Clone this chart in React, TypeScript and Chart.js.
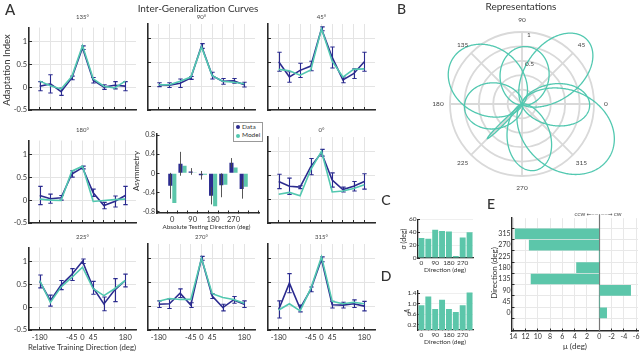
import React, { useEffect, useRef } from 'react';
import { Chart, registerables } from 'chart.js';
Chart.register(...registerables);

const FONT = 'Lato, "Open Sans", "DejaVu Sans", sans-serif';
Chart.defaults.font.family = FONT;
const NAVY = '#2b2b8f';
const TEAL = '#52c8b0';
const BAR_TEAL = '#5cc6aa';
const GRID = '#e4e4e4';
const AXIS = '#2a2a2a';
const TEXT = '#333333';

// ---------- Panel A: inter-generalization curves ----------
const relDirections = [-180, -135, -90, -45, 0, 45, 90, 135, 180];
const relTickLabels = [-180, -45, 0, 45, 180];
const adaptTicks = [-0.5, 0, 0.5, 1];

const data135 = [0.02, 0.07, -0.1, 0.2, 0.86, 0.15, 0.0, 0.04, 0.02];
const err135 = [0.1, 0.2, 0.08, 0.04, 0.04, 0.06, 0.05, 0.08, 0.1];
const model135 = [0.13, 0.03, -0.04, 0.23, 0.9, 0.18, 0.02, -0.02, 0.13];

const data90 = [0.03, 0.02, 0.06, 0.17, 0.84, 0.22, 0.1, 0.11, 0.03];
const err90 = [0.04, 0.05, 0.09, 0.03, 0.05, 0.07, 0.06, 0.05, 0.05];
const model90 = [0.03, 0.03, 0.1, 0.19, 0.82, 0.22, 0.1, 0.08, 0.05];

const data45 = [0.51, 0.19, 0.33, 0.42, 1.2, 0.6, 0.13, 0.26, 0.51];
const err45 = [0.2, 0.11, 0.15, 0.1, 0.04, 0.22, 0.06, 0.1, 0.2];
const model45 = [0.35, 0.32, 0.23, 0.34, 1.2, 0.52, 0.19, 0.35, 0.36];

const data180 = [0.1, 0.03, 0.05, 0.57, 0.71, 0.16, -0.12, -0.03, 0.1];
const err180 = [0.2, 0.1, 0.05, 0.07, 0.03, 0.08, 0.07, 0.12, 0.2];
const model180 = [0.02, 0.0, -0.01, 0.63, 0.74, -0.03, -0.01, 0.01, 0.02];

const data0 = [0.37, 0.27, 0.25, 0.68, 0.97, 0.4, 0.2, 0.27, 0.37];
const err0 = [0.15, 0.17, 0.03, 0.17, 0.07, 0.15, 0.05, 0.1, 0.16];
const model0 = [0.1, 0.14, 0.07, 0.62, 1.0, 0.15, 0.17, 0.22, 0.3];

const data225 = [0.56, 0.14, 0.48, 0.71, 1.0, 0.42, 0.07, 0.37, 0.58];
const err225 = [0.14, 0.12, 0.1, 0.13, 0.05, 0.14, 0.15, 0.25, 0.14];
const model225 = [0.58, 0.1, 0.44, 0.65, 0.87, 0.4, 0.25, 0.4, 0.58];

const data270 = [0.04, 0.05, 0.27, 0.02, 1.0, 0.21, -0.03, 0.13, 0.04];
const err270 = [0.07, 0.1, 0.09, 0.05, 0.04, 0.05, 0.07, 0.07, 0.07];
const model270 = [0.1, 0.16, 0.14, 0.14, 1.0, 0.26, 0.18, 0.14, 0.06];

const data315 = [-0.07, 0.48, -0.05, 0.35, 0.98, 0.03, 0.02, 0.05, 0.0];
const err315 = [0.18, 0.2, 0.07, 0.05, 0.05, 0.07, 0.06, 0.08, 0.1];
const model315 = [-0.08, 0.05, -0.1, 0.37, 1.03, 0.1, 0.05, 0.08, 0.05];

// ---------- Asymmetry bar panel ----------
const absDirections = [0, 45, 90, 135, 180, 225, 270, 315];
const absTickLabels = [0, 90, 180, 270];
const asymTicks = [-0.8, -0.4, 0, 0.4, 0.8];
const asymData = [-0.26, 0.2, 0.04, -0.04, -0.47, -0.25, 0.22, -0.33];
const asymErr = [0.27, 0.25, 0.07, 0.09, 0.18, 0.25, 0.1, 0.2];
const asymModel = [-0.62, 0.16, 0.02, -0.03, -0.69, -0.24, 0.12, -0.28];

// ---------- Panels C, D, E: representation parameters ----------
const sigmaDeg = [31, 30, 44, 42, 41, 3, 32, 40];
const sigmaTicks = [0, 20, 40, 60];
const amplitude = [0.94, 1.27, 0.8, 1.15, 0.8, 0.68, 0.94, 1.42];
const ampTicks = [0.2, 0.6, 1.0, 1.4];
const muDeg = [-1.2, 0, -5.1, 11.1, 3.7, 0, 11.4, 13.7];
const muTicks = [-6, -4, -2, 0, 2, 4, 6, 8, 10, 12, 14];

// ---------- Panel B: polar representation ----------
const polarAngleLabels = [0, 45, 90, 135, 180, 225, 270, 315];
const polarRingTicks = [0.2, 0.4, 0.6, 0.8, 1.0];
const POLAR_STEP = 0.5;
const polarSamples = Array.from({ length: 720 }, (_, i) => (((90 - i * POLAR_STEP) % 360) + 360) % 360);

type Rect = { l: number; t: number; r: number; b: number };
type M = { ml: number; mt: number; mr: number; mb: number };

const errorBars = {
  id: 'errorBars',
  afterDatasetDraw(chart: any, args: any) {
    const ds = chart.data.datasets[args.index];
    if (!ds.errors) return;
    const meta = args.meta;
    const ys = chart.scales[meta.yAxisID];
    const ctx = chart.ctx;
    ctx.save();
    ctx.strokeStyle = ds.errColor;
    ctx.lineWidth = ds.errWidth;
    meta.data.forEach((el: any, i: number) => {
      const raw = ds.data[i];
      const v = typeof raw === 'number' ? raw : raw.y;
      const e = ds.errors[i];
      const x = Math.round(el.x) + 0.5;
      const y1 = ys.getPixelForValue(v + e);
      const y2 = ys.getPixelForValue(v - e);
      ctx.beginPath();
      ctx.moveTo(x, y1);
      ctx.lineTo(x, y2);
      if (ds.cap) {
        ctx.moveTo(x - ds.cap, y1);
        ctx.lineTo(x + ds.cap, y1);
        ctx.moveTo(x - ds.cap, y2);
        ctx.lineTo(x + ds.cap, y2);
      }
      ctx.stroke();
    });
    ctx.restore();
  },
};

function baseOpts(m: M) {
  return {
    responsive: false,
    animation: false,
    devicePixelRatio: 1,
    events: [],
    layout: { padding: { left: 0, top: m.mt, right: m.mr, bottom: 0 } },
    plugins: { legend: { display: false }, tooltip: { enabled: false }, title: { display: false } },
  };
}

function ChartCanvas({ rect, m, build }: { rect: Rect; m: M; build: (m: M) => any }) {
  const ref = useRef<HTMLCanvasElement>(null);
  const w = rect.r - rect.l + m.ml + m.mr;
  const h = rect.b - rect.t + m.mt + m.mb;
  useEffect(() => {
    const chart = new Chart(ref.current as HTMLCanvasElement, build(m));
    return () => chart.destroy();
  }, []);
  return (
    <canvas
      ref={ref}
      width={w}
      height={h}
      style={{ position: 'absolute', left: rect.l - m.ml, top: rect.t - m.mt, width: w, height: h }}
    />
  );
}

function linePanel(data: number[], err: number[], model: number[], showY: boolean, showX: boolean) {
  return (m: M) => ({
    type: 'line',
    data: {
      datasets: [
        {
          data: relDirections.map((x, i) => ({ x, y: model[i] })),
          borderColor: TEAL,
          borderWidth: 1.6,
          pointRadius: 0,
          tension: 0,
        },
        {
          data: relDirections.map((x, i) => ({ x, y: data[i] })),
          borderColor: NAVY,
          borderWidth: 1.6,
          pointRadius: 0,
          tension: 0,
          errors: err,
          errColor: NAVY,
          errWidth: 1.1,
          cap: 2.2,
        },
      ],
    },
    plugins: [errorBars],
    options: {
      ...baseOpts(m),
      scales: {
        x: {
          type: 'linear',
          min: -225,
          max: 225,
          afterBuildTicks: (s: any) => { s.ticks = relDirections.map((v) => ({ value: v })); },
          afterFit: (s: any) => { s.height = m.mb; },
          grid: { color: GRID, lineWidth: 1, tickLength: -3, tickColor: AXIS, tickWidth: 1 },
          border: { color: AXIS, width: 1.6 },
          ticks: {
            display: showX,
            autoSkip: false,
            maxRotation: 0,
            minRotation: 0,
            padding: 6,
            color: TEXT,
            font: { size: 7.5, family: FONT },
            callback: (v: number) => (relTickLabels.includes(v) ? String(v) : ''),
          },
        },
        y: {
          type: 'linear',
          min: -0.5,
          max: 1.3,
          afterBuildTicks: (s: any) => { s.ticks = adaptTicks.map((v) => ({ value: v })); },
          afterFit: (s: any) => { s.width = m.ml; },
          grid: { color: GRID, lineWidth: 1, tickLength: -3, tickColor: AXIS, tickWidth: 1 },
          border: { color: AXIS, width: 1.6 },
          ticks: {
            display: showY,
            padding: 5,
            color: TEXT,
            font: { size: 7.5, family: FONT },
            callback: (v: number) => String(v),
          },
        },
      },
    },
  });
}

function asymPanel(m: M) {
  return {
    type: 'bar',
    data: {
      datasets: [
        {
          data: absDirections.map((x, i) => ({ x, y: asymData[i] })),
          backgroundColor: NAVY,
          errors: asymErr,
          errColor: '#444',
          errWidth: 0.9,
          cap: 0,
        },
        {
          data: absDirections.map((x, i) => ({ x, y: asymModel[i] })),
          backgroundColor: BAR_TEAL,
        },
      ],
    },
    plugins: [errorBars],
    options: {
      ...baseOpts(m),
      datasets: { bar: { categoryPercentage: 0.8, barPercentage: 1 } },
      scales: {
        x: {
          type: 'linear',
          min: -45,
          max: 360,
          afterBuildTicks: (s: any) => { s.ticks = [-45, ...absDirections, 360].map((v) => ({ value: v })); },
          afterFit: (s: any) => { s.height = m.mb; },
          grid: { drawOnChartArea: false, tickLength: -2.5, tickColor: AXIS },
          border: { color: AXIS, width: 1.5 },
          ticks: {
            autoSkip: false, maxRotation: 0, minRotation: 0, padding: 4.5, color: TEXT,
            font: { size: 7.5, family: FONT },
            callback: (v: number) => (absTickLabels.includes(v) ? String(v) : ''),
          },
        },
        y: {
          type: 'linear',
          min: -0.83,
          max: 0.83,
          afterBuildTicks: (s: any) => { s.ticks = asymTicks.map((v) => ({ value: v })); },
          afterFit: (s: any) => { s.width = m.ml; },
          grid: { drawOnChartArea: false, tickLength: -2.5, tickColor: AXIS },
          border: { color: AXIS, width: 1.5 },
          ticks: {
            padding: 4.5, color: TEXT, font: { size: 7, family: FONT },
            callback: (v: number) => (v === 0 ? '0' : v.toFixed(1)),
          },
        },
      },
    },
  };
}

function paramBarPanel(values: number[], ymax: number, ticks: number[], fmt: (v: number) => string) {
  return (m: M) => ({
    type: 'bar',
    data: {
      labels: absDirections.map(String),
      datasets: [{ data: values, backgroundColor: BAR_TEAL, barPercentage: 0.86, categoryPercentage: 1 }],
    },
    options: {
      ...baseOpts(m),
      scales: {
        x: {
          afterFit: (s: any) => { s.height = m.mb; },
          grid: { drawOnChartArea: false, tickLength: -2, tickColor: AXIS, offset: false },
          border: { color: AXIS, width: 1.3 },
          ticks: {
            autoSkip: false, maxRotation: 0, minRotation: 0, padding: 3.5, color: TEXT,
            font: { size: 6.5, family: FONT },
            callback: (_v: number, i: number) => (absTickLabels.includes(absDirections[i]) ? String(absDirections[i]) : ''),
          },
        },
        y: {
          min: 0,
          max: ymax,
          afterBuildTicks: (s: any) => { s.ticks = ticks.map((v) => ({ value: v })); },
          afterFit: (s: any) => { s.width = m.ml; },
          grid: { color: '#efefef', tickLength: -2, tickColor: AXIS },
          border: { color: AXIS, width: 1.3 },
          ticks: { padding: 3.5, color: TEXT, font: { size: 6.5, family: FONT }, callback: fmt },
        },
      },
    },
  });
}

const zeroLine = {
  id: 'zeroLine',
  beforeDatasetsDraw(chart: any) {
    const xs = chart.scales.x;
    const a = chart.chartArea;
    const ctx = chart.ctx;
    const x = Math.round(xs.getPixelForValue(0)) + 0.5;
    ctx.save();
    ctx.strokeStyle = '#777';
    ctx.lineWidth = 1.2;
    ctx.beginPath();
    ctx.moveTo(x, a.top - 4);
    ctx.lineTo(x, a.bottom);
    ctx.stroke();
    ctx.restore();
  },
};

function muPanel(m: M) {
  return {
    type: 'bar',
    data: {
      datasets: [
        {
          data: absDirections.map((d, i) => ({ x: muDeg[i], y: d })),
          backgroundColor: BAR_TEAL,
          barThickness: 10,
        },
      ],
    },
    plugins: [zeroLine],
    options: {
      ...baseOpts(m),
      indexAxis: 'y',
      scales: {
        x: {
          type: 'linear',
          reverse: true,
          min: -6.3,
          max: 14.2,
          afterBuildTicks: (s: any) => { s.ticks = muTicks.map((v) => ({ value: v })); },
          afterFit: (s: any) => { s.height = m.mb; },
          grid: { color: '#e8e8e8', tickLength: -2.5, tickColor: AXIS },
          border: { color: AXIS, width: 1.4 },
          ticks: { autoSkip: false, maxRotation: 0, minRotation: 0, padding: 4, color: TEXT, font: { size: 7, family: FONT }, callback: (v: number) => String(v) },
        },
        y: {
          type: 'linear',
          min: -44,
          max: 349,
          afterBuildTicks: (s: any) => { s.ticks = absDirections.map((v) => ({ value: v })); },
          afterFit: (s: any) => { s.width = m.ml; },
          grid: { color: '#e8e8e8', tickLength: -2.5, tickColor: AXIS },
          border: { color: AXIS, width: 1.4 },
          ticks: { padding: 4, color: TEXT, font: { size: 7, family: FONT }, callback: (v: number) => String(v) },
        },
      },
    },
  };
}

const polarLabelsPlugin = {
  id: 'polarLabels',
  afterDraw(chart: any) {
    const s = chart.scales.r;
    const ctx = chart.ctx;
    ctx.save();
    ctx.fillStyle = '#444';
    ctx.font = `6.5px ${FONT}`;
    ctx.textAlign = 'center';
    ctx.textBaseline = 'middle';
    const R = s.drawingArea + 12;
    polarAngleLabels.forEach((a) => {
      const rad = (a * Math.PI) / 180;
      ctx.fillText(String(a), s.xCenter + R * Math.cos(rad), s.yCenter - R * Math.sin(rad));
    });
    ctx.textAlign = 'left';
    ctx.fillText('1', s.xCenter + 5, s.yCenter - s.getDistanceFromCenterForValue(1) + 3);
    ctx.fillText('0.5', s.xCenter + 3, s.yCenter - s.getDistanceFromCenterForValue(0.6) + 3);
    ctx.restore();
  },
};

function polarPanel(m: M) {
  const datasets = absDirections.map((d, k) => {
    const center = d + muDeg[k];
    const sig = sigmaDeg[k];
    return {
      data: polarSamples.map((th) => {
        let dl = th - center;
        dl = ((dl + 540) % 360) - 180;
        return amplitude[k] * Math.exp(-(dl * dl) / (2 * sig * sig));
      }),
      borderColor: TEAL,
      borderWidth: 1.3,
      pointRadius: 0,
      fill: false,
      clip: false,
    };
  });
  return {
    type: 'radar',
    data: { labels: polarSamples.map(String), datasets },
    plugins: [polarLabelsPlugin],
    options: {
      ...baseOpts(m),
      layout: { padding: { left: m.ml, top: m.mt, right: m.mr, bottom: m.mb } },
      scales: {
        r: {
          min: 0,
          max: 1,
          afterBuildTicks: (s: any) => { s.ticks = [0, ...polarRingTicks].map((v) => ({ value: v })); },
          ticks: { display: false },
          pointLabels: { display: false },
          grid: { circular: true, color: '#d9d9d9', lineWidth: 1.8 },
          angleLines: {
            color: '#d9d9d9',
            lineWidth: (c: any) => (c.index % Math.round(45 / POLAR_STEP) === 0 ? 1.8 : 0),
          },
        },
      },
    },
  };
}

function T(props: { x: number; y: number; s: number; children: any; rot?: number; w?: number; it?: boolean; color?: string }) {
  const { x, y, s, children, rot, w = 400, it, color = TEXT } = props;
  return (
    <div
      style={{
        position: 'absolute', left: x, top: y,
        transform: `translate(-50%,-50%)${rot ? ` rotate(${rot}deg)` : ''}`,
        fontSize: s, fontWeight: w, fontStyle: it ? 'italic' : 'normal', color,
        whiteSpace: 'nowrap', lineHeight: 1, fontFamily: FONT,
      }}
    >
      {children}
    </div>
  );
}

const cols = [{ l: 29, r: 136 }, { l: 148, r: 255 }, { l: 268, r: 375 }];
const rows = [{ t: 24, b: 110 }, { t: 137, b: 223 }, { t: 244, b: 330 }];
const lineM: M = { ml: 28, mt: 6, mr: 4, mb: 14 };

export default function App() {
  const panels = [
    { c: 0, r: 0, title: '135°', d: data135, e: err135, mo: model135 },
    { c: 1, r: 0, title: '90°', d: data90, e: err90, mo: model90 },
    { c: 2, r: 0, title: '45°', d: data45, e: err45, mo: model45 },
    { c: 0, r: 1, title: '180°', d: data180, e: err180, mo: model180 },
    { c: 2, r: 1, title: '0°', d: data0, e: err0, mo: model0 },
    { c: 0, r: 2, title: '225°', d: data225, e: err225, mo: model225 },
    { c: 1, r: 2, title: '270°', d: data270, e: err270, mo: model270 },
    { c: 2, r: 2, title: '315°', d: data315, e: err315, mo: model315 },
  ];
  return (
    <div style={{ position: 'fixed', left: 0, top: 0, width: 640, height: 352, background: '#fff', overflow: 'hidden', fontFamily: FONT }}>
      {panels.map((p, i) => (
        <ChartCanvas
          key={i}
          rect={{ l: cols[p.c].l, r: cols[p.c].r, t: rows[p.r].t, b: rows[p.r].b }}
          m={lineM}
          build={linePanel(p.d, p.e, p.mo, p.c === 0, p.r === 2)}
        />
      ))}
      {panels.map((p, i) => (
        <T key={'t' + i} x={(cols[p.c].l + cols[p.c].r) / 2} y={rows[p.r].t - 7} s={6} color="#444">{p.title}</T>
      ))}
      <ChartCanvas rect={{ l: 157, r: 259, t: 131, b: 213 }} m={{ ml: 24, mt: 6, mr: 4, mb: 12 }} build={asymPanel} />
      <ChartCanvas rect={{ l: 418, r: 473, t: 218, b: 258 }} m={{ ml: 20, mt: 6, mr: 4, mb: 12 }} build={paramBarPanel(sigmaDeg, 60, sigmaTicks, (v) => String(v))} />
      <ChartCanvas rect={{ l: 418, r: 473, t: 289, b: 330 }} m={{ ml: 20, mt: 6, mr: 4, mb: 12 }} build={paramBarPanel(amplitude, 1.5, ampTicks, (v) => v.toFixed(1))} />
      <ChartCanvas rect={{ l: 512, r: 638, t: 218, b: 331 }} m={{ ml: 22, mt: 8, mr: 2, mb: 12 }} build={muPanel} />
      <ChartCanvas rect={{ l: 450, r: 594, t: 32, b: 176 }} m={{ ml: 50, mt: 32, mr: 46, mb: 34 }} build={polarPanel} />

      {/* Legend for asymmetry panel */}
      <div style={{ position: 'absolute', left: 233, top: 122, width: 30, height: 20, border: '1px solid #999', background: '#fff', boxSizing: 'border-box' }} />
      <div style={{ position: 'absolute', left: 236, top: 125, width: 4, height: 4, borderRadius: 2, background: NAVY }} />
      <div style={{ position: 'absolute', left: 236, top: 133.5, width: 4, height: 4, borderRadius: 2, background: TEAL }} />
      <div style={{ position: 'absolute', left: 242, top: 123.5, fontSize: 6.5, lineHeight: 1, color: TEXT, fontFamily: FONT }}>Data</div>
      <div style={{ position: 'absolute', left: 242, top: 132, fontSize: 6.5, lineHeight: 1, color: TEXT, fontFamily: FONT }}>Model</div>

      <T x={10} y={9} s={15} w={500}>A</T>
      <T x={198} y={8} s={10}>Inter-Generalization Curves</T>
      <T x={6.5} y={70} s={9.5} rot={-90}>Adaptation Index</T>
      <T x={82} y={347.5} s={7.8}>Relative Training Direction (deg)</T>
      <T x={136} y={171} s={8} rot={-90}>Asymmetry</T>
      <T x={206.5} y={226.5} s={6.3}>Absolute Testing Direction (deg)</T>

      <T x={401.5} y={8.5} s={14} w={500}>B</T>
      <T x={521} y={6} s={10}>Representations</T>

      <T x={386} y={200} s={14} w={500}>C</T>
      <T x={403} y={238.5} s={7} rot={-90}>σ (deg)</T>
      <T x={445} y={270} s={6.5}>Direction (deg)</T>

      <T x={386} y={276} s={14} w={500}>D</T>
      <T x={406.5} y={311} s={7} rot={-90} it>A</T>
      <T x={445} y={341.5} s={6.5}>Direction (deg)</T>

      <T x={491} y={203.5} s={14} w={500}>E</T>
      <T x={494} y={273} s={8} rot={-90}>Direction (deg)</T>
      <T x={575} y={345.5} s={8}>μ (deg)</T>
      <T x={598} y={214.3} s={4.6}>CCW ←——&nbsp;&nbsp;——→ CW</T>
    </div>
  );
}
